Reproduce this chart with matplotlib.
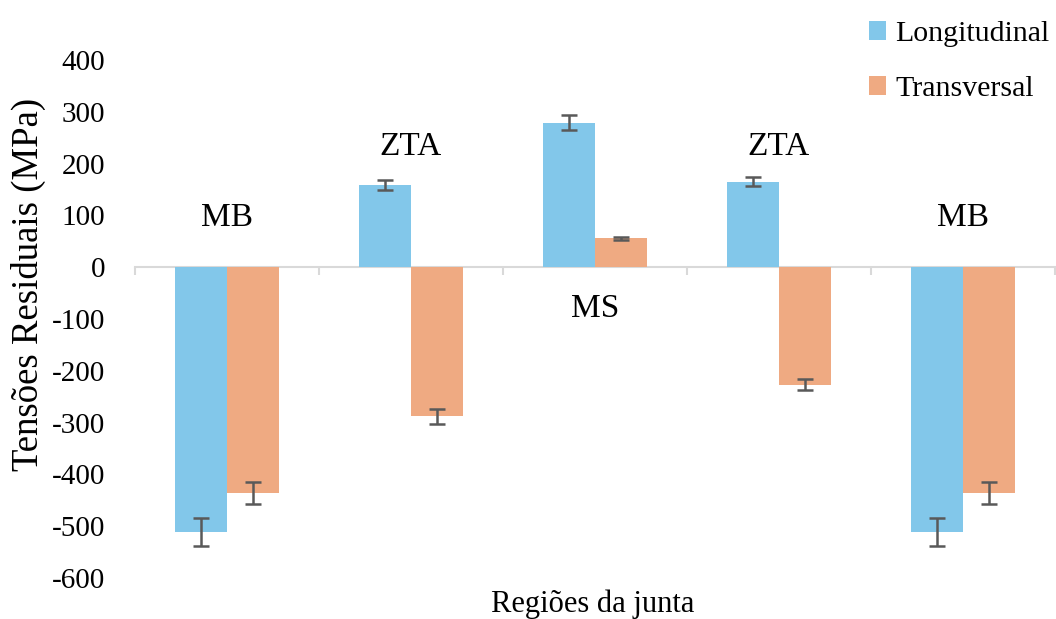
"""Tensões residuais por região da junta (longitudinal x transversal)."""

import matplotlib

matplotlib.use("Agg")
import matplotlib.pyplot as plt
import numpy as np

regioes = ["MB", "ZTA", "MS", "ZTA", "MB"]
longitudinal = [-512, 158, 279, 165, -512]
transversal = [-436, -288, 56, -227, -436]
err_long = [27, 10, 14, 9, 27]
err_trans = [22, 14, 3, 11, 22]
label_y = [95, 232, -80, 232, 95]

plt.rcParams["font.family"] = ["Liberation Serif", "DejaVu Serif"]
plt.rcParams["axes.unicode_minus"] = False

fig = plt.figure(figsize=(10.56, 6.19), dpi=100)
ax = fig.add_axes([0.1278, 0.0662, 0.871, 0.837])

x = np.arange(len(regioes))
w = 0.283
err_kw = dict(ecolor="#595959", elinewidth=1.8, capsize=6, capthick=1.8)
ax.bar(x - w / 2, longitudinal, w, yerr=err_long, color="#82C7EA",
       label="Longitudinal", error_kw=err_kw, zorder=2)
ax.bar(x + w / 2, transversal, w, yerr=err_trans, color="#EFAA82",
       label="Transversal", error_kw=err_kw, zorder=2)

for xi, name, yi in zip(x, regioes, label_y):
    ax.text(xi, yi, name, ha="center", va="center", fontsize=24)

ax.set_xlim(-0.5, 4.5)
ax.set_ylim(-600, 400)
ax.set_yticks(np.arange(-600, 401, 100))
ax.set_xticks(np.arange(-0.5, 4.6, 1.0))
ax.set_xticklabels([])

for side in ["top", "right", "left"]:
    ax.spines[side].set_visible(False)
ax.spines["bottom"].set_position(("data", 0))
ax.spines["bottom"].set_color("#D9D9D9")
ax.spines["bottom"].set_linewidth(1.5)
ax.spines["bottom"].set_zorder(1)
ax.tick_params(axis="x", direction="out", length=6, color="#D9D9D9", width=1.5)
ax.tick_params(axis="y", length=0, labelsize=21, pad=21.5)

fig.text(28 / 1056, 1 - 284 / 619, "Tensões Residuais (MPa)", rotation=90,
         ha="center", va="center", fontsize=26.5)
fig.text(593 / 1056, 1 - 604 / 619, "Regiões da junta", ha="center",
         va="center", fontsize=22)

fig.legend(*ax.get_legend_handles_labels(), loc="upper left",
           bbox_to_anchor=(869 / 1056, 1 - 21 / 619), frameon=False,
           borderpad=0, borderaxespad=0,
           fontsize=21.5, handlelength=0.58, handleheight=0.58,
           handletextpad=0.3, labelspacing=0.97)

fig.savefig("out.png", dpi=100)
